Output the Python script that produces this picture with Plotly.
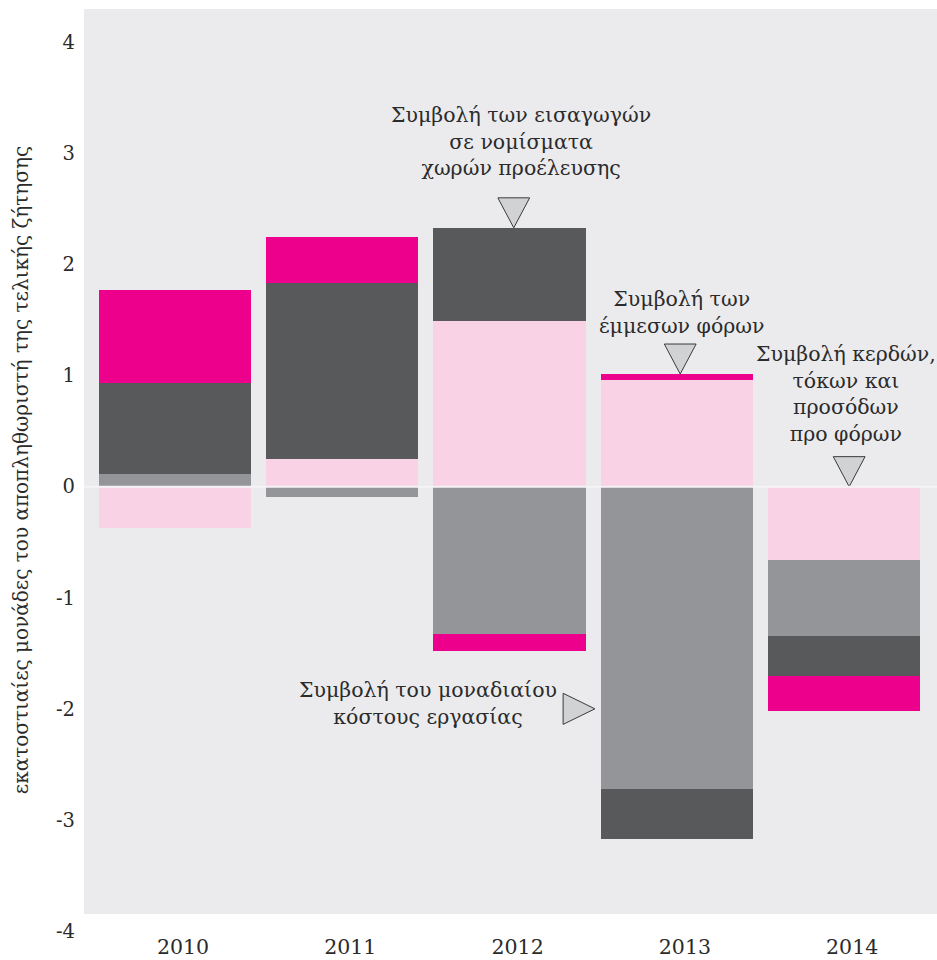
import plotly.graph_objects as go

# Years on the category axis
years = ["2010", "2011", "2012", "2013", "2014"]

# Contributions to the final-demand deflator (percentage points)
indirect_taxes = [-0.37, 0.25, 1.49, 0.96, -0.66]
unit_labour_cost = [0.11, -0.09, -1.33, -2.72, -0.68]
imports = [0.82, 1.58, 0.84, -0.45, -0.36]
profits = [0.84, 0.42, -0.15, 0.054, -0.32]

y_ticks = [-4, -3, -2, -1, 0, 1, 2, 3, 4]
y_tick_text = ["-4", "-3", "-2", "-1", "0", "1", "2", "3", "4"]

FONT = "DejaVu Serif"
TEXT_COLOR = "#2b2b2b"
BG = "#EBEBEE"

x = list(range(len(years)))
bar_width = 0.91

fig = go.Figure()

series = [
    (indirect_taxes, "#F9D3E5", "Συμβολή των έμμεσων φόρων"),
    (unit_labour_cost, "#939598", "Συμβολή του μοναδιαίου κόστους εργασίας"),
    (imports, "#58595B", "Συμβολή των εισαγωγών σε νομίσματα χωρών προέλευσης"),
    (profits, "#EC008C", "Συμβολή κερδών, τόκων και προσόδων προ φόρων"),
]
for vals, color, name in series:
    fig.add_trace(go.Bar(
        x=x, y=vals, name=name, width=bar_width,
        marker=dict(color=color, line=dict(width=0)),
        hoverinfo="name+y",
    ))


def positive_top(i):
    return sum(v[i] for v, _, _ in series if v[i] > 0)


def down_marker(cx, tip):
    # downward-pointing pointer whose tip rests on the top of a bar
    half_w, h = 0.095, 0.27
    fig.add_trace(go.Scatter(
        x=[cx - half_w, cx + half_w, cx, cx - half_w],
        y=[tip + h, tip + h, tip, tip + h],
        mode="lines", fill="toself", fillcolor="#D1D2D4",
        line=dict(color="#3a3a3a", width=1), hoverinfo="skip",
    ))


down_marker(2.025, positive_top(2))
down_marker(3.02, positive_top(3))
down_marker(4.03, positive_top(4))

# right-pointing pointer next to the 2013 labour-cost segment
tip_x = 3 - bar_width / 2 - 0.035
fig.add_trace(go.Scatter(
    x=[tip_x - 0.19, tip_x, tip_x - 0.19, tip_x - 0.19],
    y=[-2.14, -2.0, -1.86, -2.14],
    mode="lines", fill="toself", fillcolor="#D1D2D4",
    line=dict(color="#3a3a3a", width=1), hoverinfo="skip",
))

notes = [
    (2.07, 3.11, "Συμβολή των εισαγωγών<br>σε νομίσματα<br>χωρών προέλευσης"),
    (3.03, 1.57, "Συμβολή των<br>έμμεσων φόρων"),
    (4.01, 0.835, "Συμβολή κερδών,<br>τόκων και<br>προσόδων<br>προ φόρων"),
    (1.515, -1.955, "Συμβολή του μοναδιαίου<br>κόστους εργασίας"),
]
for nx, ny, txt in notes:
    fig.add_annotation(
        x=nx, y=ny, text=txt, showarrow=False, align="center",
        xanchor="center", yanchor="middle",
        font=dict(family=FONT, size=20.5, color=TEXT_COLOR),
    )

# shaded plotting panel
fig.add_shape(type="rect", xref="paper", yref="paper", x0=0, x1=1,
              y0=0.0184, y1=1, fillcolor=BG, line=dict(width=0), layer="below")
# thin separator along zero
fig.add_shape(type="line", xref="paper", yref="y", x0=0, x1=1, y0=0, y1=0,
              line=dict(color="#F4F4F6", width=2), layer="above")

fig.update_layout(
    width=937, height=960,
    margin=dict(l=84, r=0, t=9, b=29),
    barmode="relative", bargap=0,
    paper_bgcolor="white", plot_bgcolor="rgba(0,0,0,0)",
    showlegend=False,
    font=dict(family=FONT, size=19, color=TEXT_COLOR),
    xaxis=dict(
        range=[-0.544, 4.555], tickmode="array", tickvals=x, ticktext=years,
        showgrid=False, zeroline=False, showline=False, ticks="",
        ticklabelshift=8, ticklabelstandoff=1,
        tickfont=dict(family=FONT, size=20.5, color=TEXT_COLOR),
    ),
    yaxis=dict(
        range=[-4, 4.3], tickmode="array", tickvals=y_ticks, ticktext=y_tick_text,
        showgrid=False, zeroline=False, showline=False, ticks="",
        ticklabelstandoff=8,
        tickfont=dict(family=FONT, size=19.5, color=TEXT_COLOR),
        title=dict(text="εκατοστιαίες μονάδες του αποπληθωριστή της τελικής ζήτησης",
                   font=dict(family=FONT, size=20, color=TEXT_COLOR), standoff=22),
    ),
)

fig.write_html("out.html")
